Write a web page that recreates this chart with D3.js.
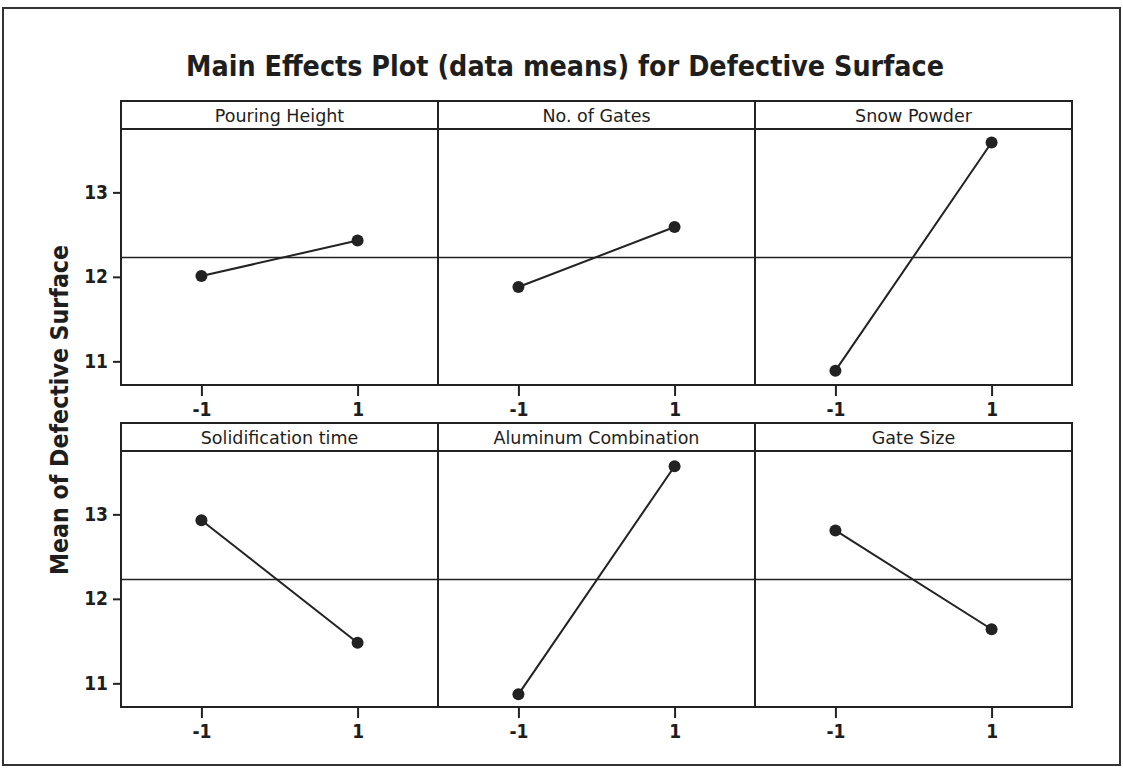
<!DOCTYPE html>
<html>
<head>
<meta charset="utf-8">
<script src="https://cdn.jsdelivr.net/npm/d3@7"></script>
<style>
  body { margin: 0; background: #fff; }
  text { font-family: "DejaVu Sans Condensed", "DejaVu Sans", sans-serif; fill: #1e1e1e; }
</style>
</head>
<body>
<div id="chart"></div>
<script>
// factor names, in panel order
const factors = ["Pouring Height", "No. of Gates", "Snow Powder",
                 "Solidification time", "Aluminum Combination", "Gate Size"];
const levels = [-1, 1];
// mean of defective surface at level -1 and level 1
const lowMeans  = [12.01, 11.88, 10.89, 12.93, 10.87, 12.81];
const highMeans = [12.43, 12.59, 13.59, 11.48, 13.57, 11.64];
const grandMean = 12.23;
const yTicks = [11, 12, 13];

const W = 1123, H = 769;
const svg = d3.select("#chart").append("svg")
    .attr("width", W).attr("height", H);

// outer frame
svg.append("rect")
    .attr("x", 3).attr("y", 8).attr("width", 1117).attr("height", 757)
    .attr("fill", "#fff").attr("stroke", "#333").attr("stroke-width", 2);

svg.append("text")
    .attr("x", 565).attr("y", 76)
    .attr("text-anchor", "middle")
    .attr("font-size", 29).attr("font-weight", "bold")
    .attr("textLength", 758).attr("lengthAdjust", "spacingAndGlyphs")
    .text("Main Effects Plot (data means) for Defective Surface");

svg.append("text")
    .attr("transform", "translate(68,410) rotate(-90)")
    .attr("text-anchor", "middle")
    .attr("font-size", 24).attr("font-weight", "bold")
    .attr("textLength", 330).attr("lengthAdjust", "spacingAndGlyphs")
    .text("Mean of Defective Surface");

const colLeft = [121, 438, 755];
const rowTop = [101, 423];
const panelW = 317, headH = 28, plotH = 256;

const x = d3.scaleLinear().domain([-2.03, 2.03]).range([0, panelW]);
const y = d3.scaleLinear().domain([10.72, 13.75]).range([plotH, 0]);

const styleAxis = (a) => {
    a.attr("font-size", null).attr("font-family", null);
    a.select(".domain").remove();
    a.selectAll("line").attr("stroke", "#222").attr("stroke-width", 2);
    a.selectAll("text").style("font-size", "19px").style("font-weight", "bold")
        .style("font-family", '"DejaVu Sans Condensed", sans-serif').attr("fill", "#1e1e1e");
};

factors.forEach((name, i) => {
    const c = i % 3, r = Math.floor(i / 3);
    const g = svg.append("g")
        .attr("transform", `translate(${colLeft[c]},${rowTop[r] + headH})`);

    // header strip
    g.append("rect")
        .attr("x", 0).attr("y", -headH).attr("width", panelW).attr("height", headH)
        .attr("fill", "#fff").attr("stroke", "#222").attr("stroke-width", 2);
    g.append("text")
        .attr("x", panelW / 2).attr("y", -headH / 2 + 6.5)
        .attr("text-anchor", "middle").attr("font-size", 17.5)
        .style("font-family", '"DejaVu Sans", sans-serif')
        .text(name);

    g.append("rect")
        .attr("width", panelW).attr("height", plotH)
        .attr("fill", "none").attr("stroke", "#222").attr("stroke-width", 2);

    g.append("line")
        .attr("x1", 0).attr("x2", panelW)
        .attr("y1", y(grandMean)).attr("y2", y(grandMean))
        .attr("stroke", "#222").attr("stroke-width", 1.5);

    const pts = levels.map((lv, k) => [lv, k === 0 ? lowMeans[i] : highMeans[i]]);
    g.append("path")
        .datum(pts)
        .attr("fill", "none").attr("stroke", "#222").attr("stroke-width", 2)
        .attr("d", d3.line().x(d => x(d[0])).y(d => y(d[1])));
    g.selectAll("circle").data(pts).enter().append("circle")
        .attr("cx", d => x(d[0])).attr("cy", d => y(d[1]))
        .attr("r", 6).attr("fill", "#222");

    const xa = g.append("g")
        .attr("transform", `translate(0,${plotH + 1})`)
        .call(d3.axisBottom(x).tickValues(levels).tickSize(10).tickPadding(7).tickFormat(d => String(d)));
    styleAxis(xa);

    if (c === 0) {
        const ya = g.append("g")
            .attr("transform", "translate(-1,0)")
            .call(d3.axisLeft(y).tickValues(yTicks).tickSize(7).tickPadding(5).tickFormat(d => String(d)));
        styleAxis(ya);
    }
});
</script>
</body>
</html>
